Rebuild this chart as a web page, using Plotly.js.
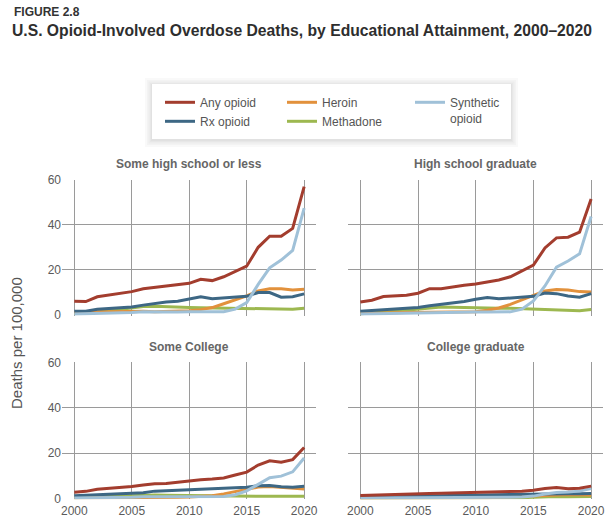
<!DOCTYPE html>
<html>
<head>
<meta charset="utf-8">
<script src="https://cdn.plot.ly/plotly-3.0.1.min.js"></script>
<style>html,body{margin:0;padding:0;background:#fff;}#chart{width:613px;height:524px;}</style>
</head>
<body>
<div id="chart"></div>
<script>
var years = [2000,2001,2002,2003,2004,2005,2006,2007,2008,2009,2010,2011,2012,2013,2014,2015,2016,2017,2018,2019,2020];
var seriesNames = ["Any opioid","Rx opioid","Heroin","Methadone","Synthetic opioid"];
var panelTitles = ["Some high school or less","High school graduate","Some College","College graduate"];
var xTickVals = [2000,2005,2010,2015,2020];
var yTickVals = [0,20,40,60];

// Some high school or less
var anyP1 = [6.0,5.9,8.0,8.8,9.6,10.3,11.6,12.2,12.8,13.3,14.0,15.8,15.2,16.9,19.3,21.6,30.0,34.9,34.9,38.4,57.0];
var rxP1  = [1.6,1.6,2.5,2.9,3.2,3.5,4.3,5.0,5.7,6.0,7.1,8.0,7.1,7.5,8.0,8.2,9.9,9.9,7.8,8.0,9.3];
var herP1 = [1.0,1.0,1.3,1.4,1.5,1.6,1.6,1.4,1.5,1.6,1.8,2.3,3.2,4.9,6.6,8.4,10.6,11.6,11.6,11.0,11.3];
var metP1 = [0.6,0.8,1.3,1.8,2.4,3.0,3.7,3.8,3.5,3.3,3.2,3.1,3.0,3.0,2.8,2.6,2.5,2.6,2.4,2.5,2.9];
var synP1 = [0.3,0.4,0.6,0.8,0.9,1.0,1.3,1.2,1.1,1.2,1.3,1.3,1.2,1.4,2.5,5.4,13.5,20.9,24.3,28.6,47.4];
// High school graduate
var anyP2 = [5.7,6.5,8.1,8.5,8.7,9.6,11.6,11.6,12.5,13.1,13.7,14.6,15.5,16.9,19.4,22.1,29.7,34.2,34.5,36.7,51.5];
var rxP2  = [1.6,1.9,2.5,2.7,2.8,3.2,4.0,4.6,5.3,5.9,6.9,7.7,7.1,7.4,7.8,8.2,9.7,9.4,8.4,7.8,9.4];
var herP2 = [0.6,0.6,0.8,0.9,1.0,1.1,1.1,1.0,1.1,1.2,1.4,2.0,3.0,4.6,6.5,8.5,10.6,11.2,11.0,10.3,10.1];
var metP2 = [0.5,0.7,1.1,1.6,2.1,2.6,3.2,3.5,3.4,3.2,3.1,3.0,2.9,2.9,2.7,2.3,2.3,2.2,2.0,1.8,2.4];
var synP2 = [0.3,0.4,0.5,0.7,0.8,0.9,1.1,1.1,1.0,1.1,1.2,1.2,1.2,1.3,2.5,6.2,12.8,21.2,23.9,27.1,43.7];
// Some College
var anyP3 = [2.7,3.1,4.0,4.3,4.8,5.2,5.9,6.5,6.6,7.2,7.7,8.2,8.5,9.0,10.3,11.6,14.7,16.6,15.9,17.1,22.4];
var rxP3  = [1.2,1.3,1.6,1.8,2.0,2.2,2.5,3.2,3.4,3.8,4.0,4.2,4.4,4.4,4.8,4.9,5.6,5.7,5.1,4.9,5.3];
var herP3 = [0.2,0.2,0.3,0.3,0.3,0.3,0.3,0.3,0.4,0.5,0.6,0.8,1.2,2.0,2.9,4.0,5.0,5.2,4.9,4.6,4.1];
var metP3 = [0.3,0.4,0.6,0.8,1.0,1.2,1.4,1.5,1.4,1.3,1.3,1.2,1.1,1.0,1.0,0.9,0.9,0.9,0.8,0.8,0.9];
var synP3 = [0.2,0.2,0.3,0.4,0.5,0.5,0.7,0.7,0.6,0.6,0.6,0.6,0.6,0.8,1.6,3.3,6.2,9.1,9.8,11.7,17.8];
// College graduate
var anyP4 = [1.3,1.5,1.7,1.8,1.9,2.0,2.2,2.3,2.4,2.5,2.6,2.6,2.7,2.9,3.2,3.6,4.4,4.8,4.3,4.5,5.4];
var rxP4  = [0.6,0.7,0.8,0.9,1.0,1.1,1.2,1.3,1.4,1.5,1.6,1.6,1.7,1.7,1.8,1.9,2.2,2.3,2.1,2.0,2.2];
var herP4 = [0.1,0.1,0.1,0.1,0.1,0.1,0.2,0.2,0.2,0.2,0.3,0.3,0.5,0.7,0.9,1.2,1.6,1.8,1.7,1.6,1.5];
var metP4 = [0.1,0.1,0.2,0.2,0.3,0.3,0.4,0.4,0.4,0.4,0.4,0.4,0.4,0.4,0.3,0.5,0.7,0.8,0.7,0.7,0.8];
var synP4 = [0.2,0.2,0.2,0.3,0.3,0.3,0.4,0.4,0.4,0.4,0.4,0.4,0.4,0.5,0.6,1.0,1.9,2.6,2.8,3.2,4.3];

var colors = {"Any opioid":"#a33d2e","Rx opioid":"#3d6784","Heroin":"#e2913c","Methadone":"#9db850","Synthetic opioid":"#a0c1d8"};
var legendOf = {"Any opioid":"legend","Rx opioid":"legend","Heroin":"legend2","Methadone":"legend2","Synthetic opioid":"legend3"};
var rankOf = {"Any opioid":1,"Rx opioid":2,"Heroin":1,"Methadone":2,"Synthetic opioid":1};
var labelOf = {"Any opioid":"Any opioid","Rx opioid":"Rx opioid","Heroin":"Heroin","Methadone":"Methadone","Synthetic opioid":"Synthetic<br>opioid"};

var panels = [
  {"Any opioid":anyP1,"Rx opioid":rxP1,"Heroin":herP1,"Methadone":metP1,"Synthetic opioid":synP1},
  {"Any opioid":anyP2,"Rx opioid":rxP2,"Heroin":herP2,"Methadone":metP2,"Synthetic opioid":synP2},
  {"Any opioid":anyP3,"Rx opioid":rxP3,"Heroin":herP3,"Methadone":metP3,"Synthetic opioid":synP3},
  {"Any opioid":anyP4,"Rx opioid":rxP4,"Heroin":herP4,"Methadone":metP4,"Synthetic opioid":synP4}
];
var drawOrder = ["Methadone","Heroin","Rx opioid","Synthetic opioid","Any opioid"];

var traces = [];
panels.forEach(function(p, i){
  var ax = i === 0 ? "" : String(i+1);
  drawOrder.forEach(function(name){
    traces.push({
      type:"scatter", mode:"lines", x:years, y:p[name],
      name:labelOf[name], legend:legendOf[name], legendrank:rankOf[name],
      showlegend: i === 0,
      xaxis:"x"+ax, yaxis:"y"+ax,
      line:{color:colors[name], width:3},
      hoverinfo:"skip"
    });
  });
});

var W = 613, H = 524;
function px(x){return x/W;}
function py(y){return 1 - y/H;}
var FONT = "Liberation Sans, Arial, Helvetica, sans-serif";
var colDom = [[px(62),px(316)],[px(348),px(603)]];
var rowDom = [[py(315.7),py(179.8)],[py(499.3),py(362.3)]];

function xa(col,row,anchor){
  return {domain:colDom[col], anchor:anchor, range:[1998.93,2021.03], tickvals:xTickVals,
    showgrid:true, gridcolor:"#9a9a9a", gridwidth:1, zeroline:false, showline:false,
    ticks:"", ticklabelstandoff:3, showticklabels:row===1, tickfont:{family:FONT,size:12,color:"#5a5a5a"}, fixedrange:true};
}
function ya(col,row,anchor){
  return {domain:rowDom[row], anchor:anchor, range:[-0.4,60], tickvals:yTickVals,
    showgrid:true, gridcolor:"#9a9a9a", gridwidth:1, zeroline:false, showline:false,
    ticks:"", showticklabels:col===0, tickfont:{family:FONT,size:12,color:"#5a5a5a"}, fixedrange:true};
}

var annotations = [
  {text:"<b>FIGURE 2.8</b>", xref:"paper", yref:"paper", x:px(12), y:py(12), xanchor:"left", yanchor:"middle", showarrow:false, font:{family:FONT,size:12,color:"#333"}},
  {text:"Deaths per 100,000", xref:"paper", yref:"paper", x:px(16), y:py(343), xanchor:"center", yanchor:"middle", textangle:-90, showarrow:false, font:{family:FONT,size:15,color:"#555"}}
];
var titleY = [164,164,346.7,346.7];
panelTitles.forEach(function(t,i){
  var c = i%2;
  annotations.push({text:"<b>"+t+"</b>", xref:"paper", yref:"paper", x:(colDom[c][0]+colDom[c][1])/2, y:py(titleY[i]),
    xanchor:"center", yanchor:"middle", showarrow:false, font:{family:FONT,size:12,color:"#666"}});
});

var shapes = [];
var shadowSteps = [7,5,3.5,2,1];
shadowSteps.forEach(function(s){
  shapes.push({type:"rect", xref:"paper", yref:"paper", layer:"above",
    x0:px(152-s), x1:px(511+s), y0:py(139+s+1), y1:py(84-s+1),
    fillcolor:"rgba(0,0,0,0.025)", line:{width:0}});
});
shapes.push({type:"rect", xref:"paper", yref:"paper", layer:"above",
  x0:px(152), x1:px(511), y0:py(139), y1:py(84), fillcolor:"#ffffff", line:{width:0}});

var legBase = {orientation:"v", bgcolor:"rgba(0,0,0,0)", borderwidth:0, xanchor:"left", yanchor:"top",
  font:{family:FONT,size:12,color:"#555"}, tracegroupgap:0, itemclick:false, itemdoubleclick:false, valign:"top"};

var layout = {
  width:W, height:H,
  margin:{l:0,r:0,t:0,b:0},
  paper_bgcolor:"#ffffff", plot_bgcolor:"#ffffff",
  title:{text:"<b>U.S. Opioid-Involved Overdose Deaths, by Educational Attainment, 2000–2020</b>",
    x:px(12), xanchor:"left", xref:"paper", y:py(31), yanchor:"middle", yref:"paper",
    font:{family:FONT,size:15.7,color:"#2e2e2e"}},
  xaxis: xa(0,0,"y"),  yaxis: ya(0,0,"x"),
  xaxis2:xa(1,0,"y2"), yaxis2:ya(1,0,"x2"),
  xaxis3:xa(0,1,"y3"), yaxis3:ya(0,1,"x3"),
  xaxis4:xa(1,1,"y4"), yaxis4:ya(1,1,"x4"),
  legend: Object.assign({}, legBase, {x:px(160), y:py(88)}),
  legend2:Object.assign({}, legBase, {x:px(282), y:py(88)}),
  legend3:Object.assign({}, legBase, {x:px(410), y:py(88)}),
  annotations:annotations,
  shapes:shapes,
  showlegend:true
};

Plotly.newPlot("chart", traces, layout, {displayModeBar:false, staticPlot:true});
</script>
</body>
</html>
